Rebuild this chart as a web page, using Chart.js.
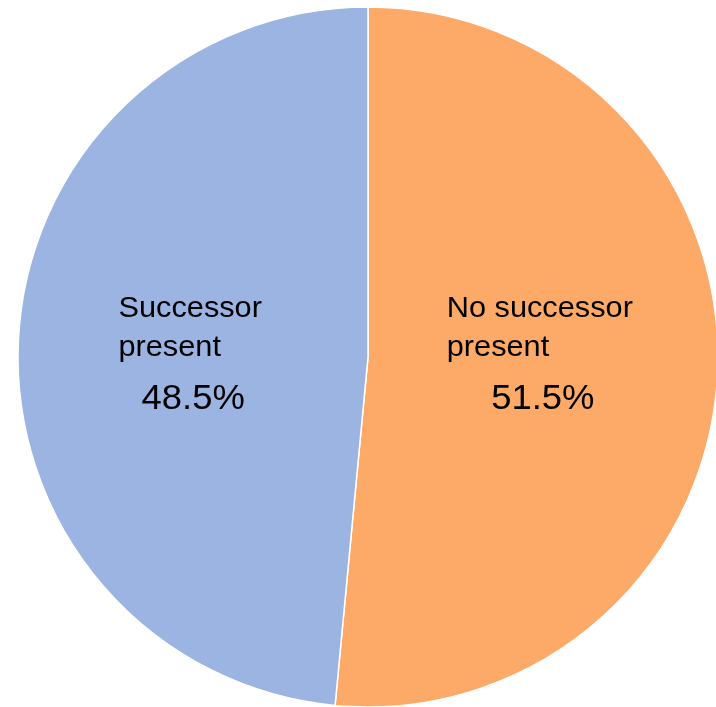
<!DOCTYPE html>
<html>
<head>
<meta charset="utf-8">
<script src="https://cdn.jsdelivr.net/npm/chart.js@4/dist/chart.umd.min.js"></script>
<style>
  html, body { margin: 0; padding: 0; background: #ffffff; overflow: hidden; }
  #wrap { width: 716px; height: 707px; position: relative; }
</style>
</head>
<body>
<div id="wrap"><canvas id="c" width="716" height="707"></canvas></div>
<script>
// Successor status shares (percent)
const categories = ['No successor present', 'Successor present'];
const nameLines = [['No successor', 'present'], ['Successor', 'present']];
const shares = [51.5, 48.5];
const sliceColors = ['#fda968', '#9bb4e2'];

// Draws the category name (left-aligned block) and the percentage inside each slice
const sliceLabels = {
  id: 'sliceLabels',
  afterDatasetsDraw(chart) {
    const ctx = chart.ctx;
    const meta = chart.getDatasetMeta(0);
    meta.data.forEach((arc, i) => {
      const p = arc.tooltipPosition();
      const cx = p.x;
      const cy = arc.y;
      ctx.save();
      ctx.fillStyle = '#000000';
      ctx.textBaseline = 'alphabetic';
      const nameStretch = 1.06;
      ctx.font = '29px "Liberation Sans", Arial, sans-serif';
      const lines = nameLines[i];
      const w = Math.max(...lines.map(l => ctx.measureText(l).width)) * nameStretch;
      const left = cx - w / 2 - 3;
      lines.forEach((l, k) => {
        ctx.save();
        ctx.translate(left, cy - 40 + k * 39);
        ctx.scale(nameStretch, 1);
        ctx.textAlign = 'left';
        ctx.fillText(l, 0, 0);
        ctx.restore();
      });
      const pctStretch = 1.04;
      ctx.font = '35px "Liberation Sans", Arial, sans-serif';
      ctx.save();
      ctx.translate(cx, cy + 52);
      ctx.scale(pctStretch, 1);
      ctx.textAlign = 'center';
      ctx.fillText(shares[i].toFixed(1) + '%', 0, 0);
      ctx.restore();
      ctx.restore();
    });
  }
};

new Chart(document.getElementById('c'), {
  type: 'pie',
  data: {
    labels: categories,
    datasets: [{
      data: shares,
      backgroundColor: sliceColors,
      borderColor: '#ffffff',
      borderWidth: 1.5,
      radius: 350
    }]
  },
  options: {
    responsive: false,
    animation: false,
    layout: { padding: { left: 20, right: 0, top: 7, bottom: 0 } },
    plugins: {
      legend: { display: false },
      tooltip: { enabled: false }
    }
  },
  plugins: [sliceLabels]
});
</script>
</body>
</html>
